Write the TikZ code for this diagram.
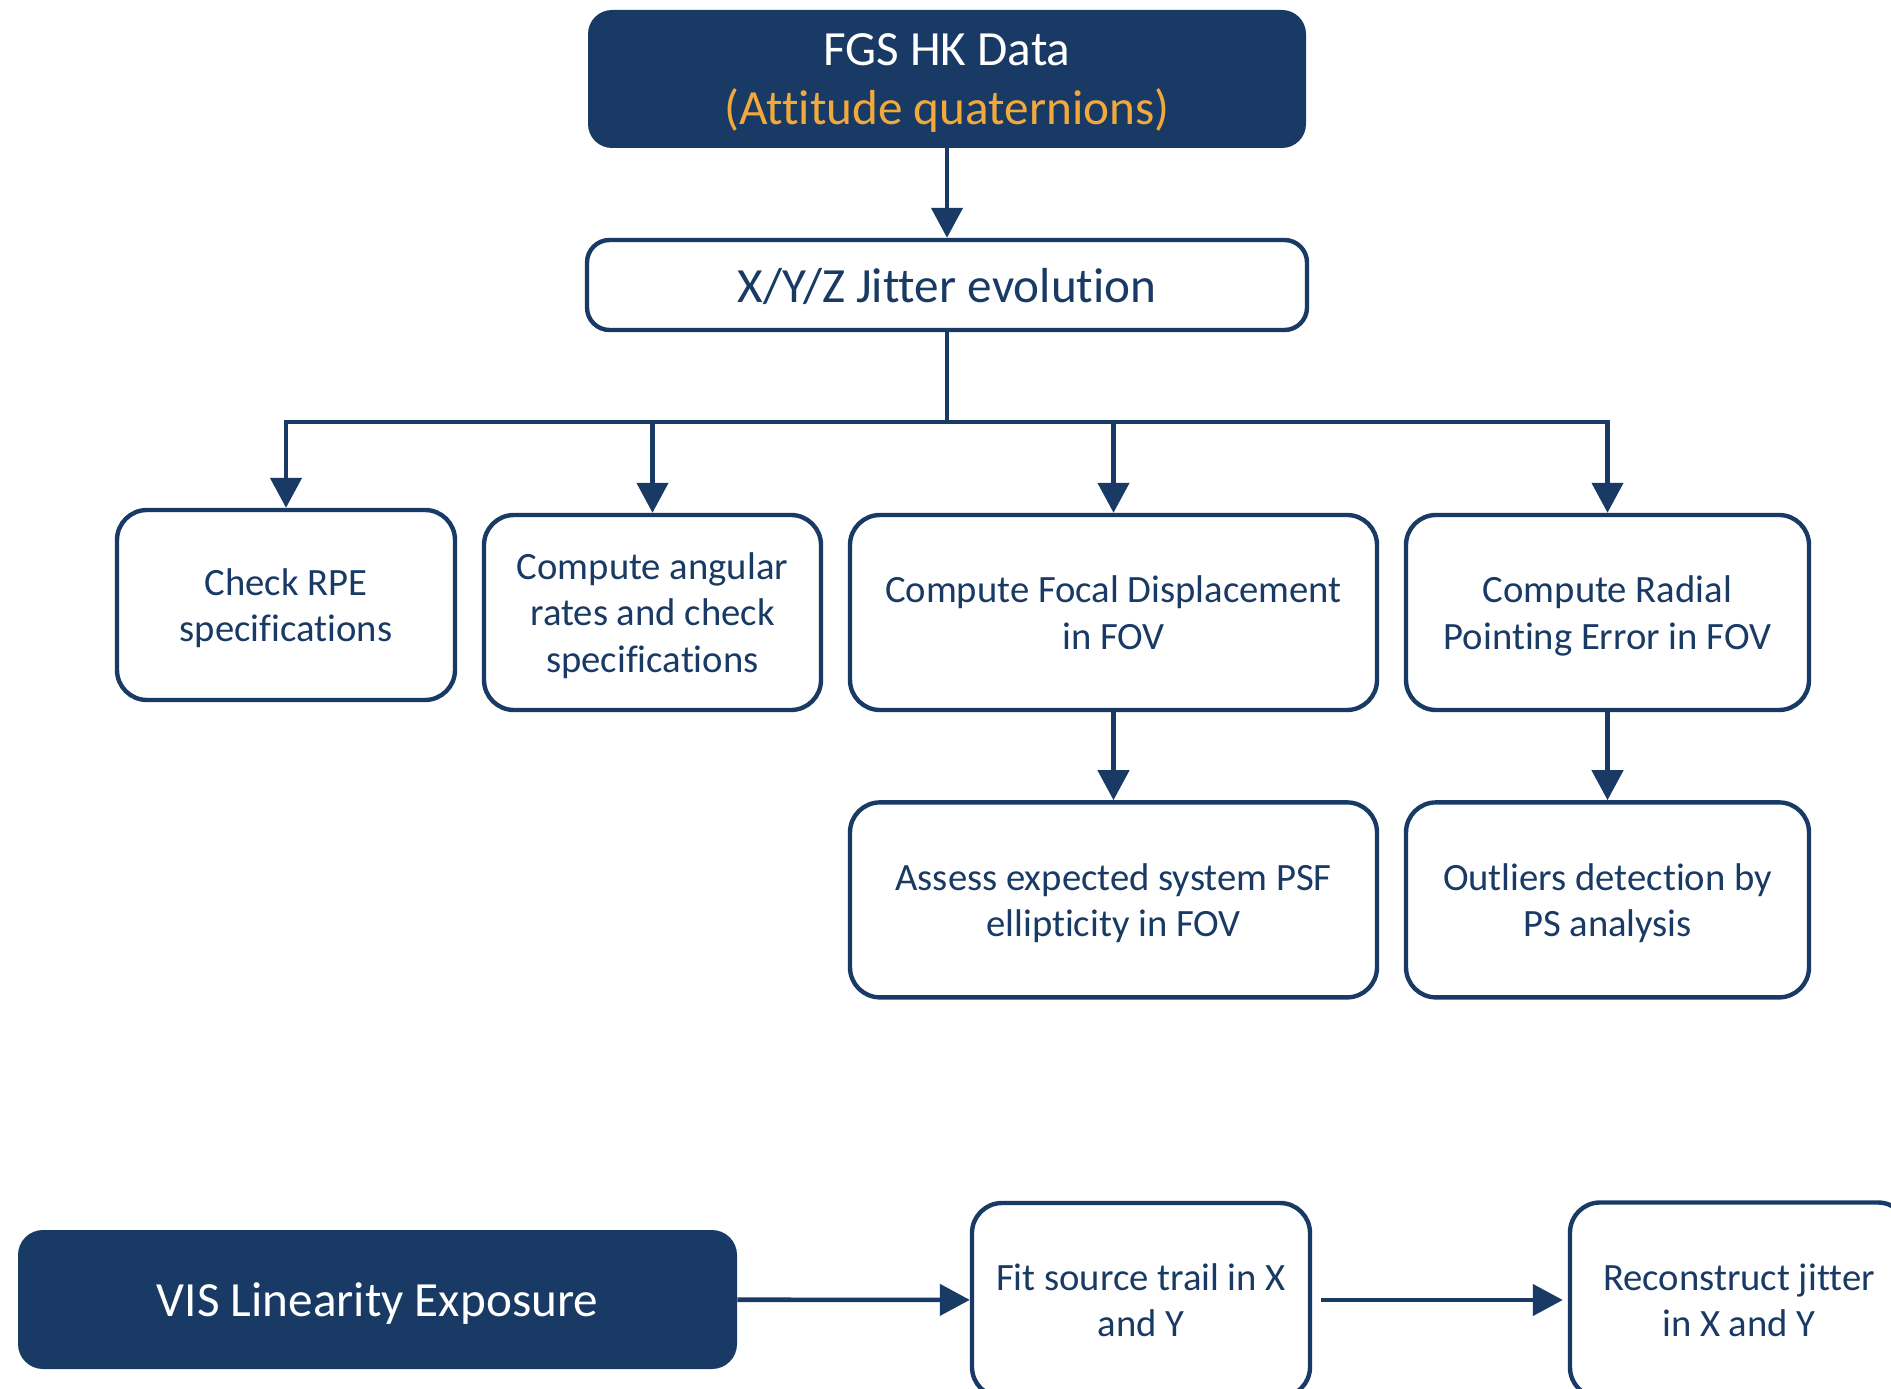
\documentclass[tikz,border=0pt]{standalone}
\usepackage{fontspec}
\setmainfont{Carlito}[Ligatures=NoCommon]
\usepackage{tikz}
\usetikzlibrary{positioning, arrows.meta, calc}
\usepackage{xcolor}
\definecolor{navy}{HTML}{183A64}
\definecolor{amber}{HTML}{F2A93B}

\begin{document}
\begin{tikzpicture}[
  box/.style={draw=navy, line width=2.5pt, rounded corners=0.6cm, fill=white,
              align=center, text=navy, inner sep=0pt, text depth=0pt,
              font=\fontsize{22}{26.5}\selectfont},
  dbox/.style={fill=navy, rounded corners=0.48cm, align=center, text=white,
               inner sep=0pt, text depth=0pt, font=\fontsize{28}{33.6}\selectfont},
  ln/.style={navy, line width=2.6pt},
  ar/.style={ln, -{Triangle[length=0.6cm, width=0.62cm]}},
]
  \useasboundingbox (0,0) rectangle (37.82,-27.78);
  \clip (0,0) rectangle (37.82,-27.78);

  % top of the tree
  \node[dbox, minimum width=14.36cm, minimum height=2.76cm] (hk) at (18.94,-1.58)
    {FGS HK Data\\\textcolor{amber}{(Attitude quaternions)}};
  \node[box, rounded corners=0.45cm, minimum width=14.4cm, minimum height=1.8cm,
        font=\fontsize{28}{33.6}\selectfont] (jitter) at (18.94,-5.70) {X/Y/Z Jitter evolution};

  % first row
  \node[box, minimum width=6.76cm, minimum height=3.8cm] (rpe) at (5.72,-12.10)
    {Check RPE\\specifications};
  \node[box, minimum width=6.74cm, minimum height=3.9cm] (rates) at (13.05,-12.25)
    {Compute angular\\rates and check\\specifications};
  \node[box, minimum width=10.54cm, minimum height=3.9cm] (focal) at (22.27,-12.25)
    {Compute Focal Displacement\\in FOV};
  \node[box, minimum width=8.06cm, minimum height=3.9cm] (radial) at (32.15,-12.25)
    {Compute Radial\\Pointing Error in FOV};

  % second row
  \node[box, minimum width=10.54cm, minimum height=3.9cm, below=1.76cm of focal] (psf)
    {Assess expected system PSF\\ellipticity in FOV};
  \node[box, minimum width=8.06cm, minimum height=3.9cm, below=1.76cm of radial] (outl)
    {Outliers detection by\\PS analysis};

  % linearity chain
  \node[dbox, minimum width=14.38cm, minimum height=2.78cm,
        rounded corners=0.5cm] (vis) at (7.55,-25.99) {VIS Linearity Exposure};
  \node[box, minimum width=6.76cm, minimum height=3.88cm] (fit) at (22.82,-26.0)
    {Fit source trail in X\\and Y};
  \node[box, minimum width=6.76cm, minimum height=3.9cm] (recon) at (34.78,-26.0)
    {Reconstruct jitter\\in X and Y};

  \coordinate (split) at ($(jitter.south)+(0,-1.8)$);

  \draw[ar] (hk) -- (jitter);
  \draw[ln] (jitter) -- (split);
  \draw[ar] (split) -| (rpe);
  \draw[ar] (split) -| (rates);
  \draw[ar] (split) -| (focal);
  \draw[ar] (split) -| (radial);
  \draw[ar] (focal) -- (psf);
  \draw[ar] (radial) -- (outl);
  \draw[ar] (vis) -- (fit);
  \draw[ar, shorten <=0.18cm, shorten >=0.1cm] (fit) -- (recon);
\end{tikzpicture}
\end{document}
